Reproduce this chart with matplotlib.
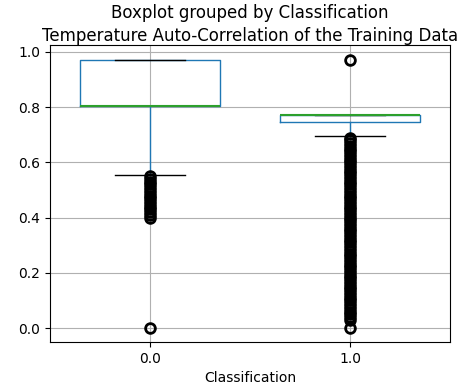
import matplotlib.pyplot as plt

# classes on the x axis
classes = ["0.0", "1.0"]

# box statistics (auto-correlation values)
whislo = [0.555, 0.697]
q1 = [0.803, 0.745]
med = [0.803, 0.770]
q3 = [0.970, 0.770]
whishi = [0.970, 0.773]

# outliers
fliers_0 = [0.0, 0.40, 0.41, 0.42, 0.43, 0.44, 0.45, 0.46, 0.47, 0.48,
            0.49, 0.50, 0.51, 0.52, 0.53, 0.54, 0.55]
fliers_1 = [0.0, 0.03, 0.04, 0.05, 0.06, 0.07, 0.08, 0.09, 0.10, 0.11,
            0.12, 0.13, 0.14, 0.15, 0.16, 0.17, 0.18, 0.19, 0.20, 0.21,
            0.22, 0.23, 0.24, 0.25, 0.26, 0.27, 0.28, 0.29, 0.30, 0.31,
            0.32, 0.33, 0.34, 0.35, 0.36, 0.37, 0.38, 0.39, 0.40, 0.41,
            0.42, 0.43, 0.44, 0.45, 0.46, 0.47, 0.48, 0.49, 0.50, 0.51,
            0.52, 0.53, 0.54, 0.55, 0.56, 0.57, 0.58, 0.59, 0.60, 0.61,
            0.62, 0.63, 0.64, 0.65, 0.66, 0.67, 0.68, 0.69, 0.97]
fliers = [fliers_0, fliers_1]


def main():
    stats = []
    for i in range(len(classes)):
        stats.append({
            "label": classes[i],
            "whislo": whislo[i],
            "q1": q1[i],
            "med": med[i],
            "q3": q3[i],
            "whishi": whishi[i],
            "fliers": fliers[i],
        })

    fig, ax = plt.subplots(figsize=(4.63, 3.85), dpi=100)
    ax.bxp(
        stats,
        widths=0.7,
        boxprops=dict(color="#1f77b4"),
        whiskerprops=dict(color="#1f77b4"),
        medianprops=dict(color="#2ca02c", linewidth=1.5),
        capprops=dict(color="black"),
        flierprops=dict(marker="o", markerfacecolor="none",
                        markeredgecolor="black", markersize=7,
                        markeredgewidth=2),
    )
    ax.set_xlim(0.5, 2.5)
    ax.set_ylim(-0.05, 1.025)
    ax.grid(True)
    ax.set_axisbelow(True)
    ax.set_title("Temperature Auto-Correlation of the Training Data", pad=3)
    fig.suptitle("Boxplot grouped by Classification", x=0.54, y=0.99)
    ax.set_xlabel("Classification")

    fig.subplots_adjust(left=0.108, right=0.972, top=0.883, bottom=0.112)
    fig.savefig("out.png")


if __name__ == "__main__":
    main()
